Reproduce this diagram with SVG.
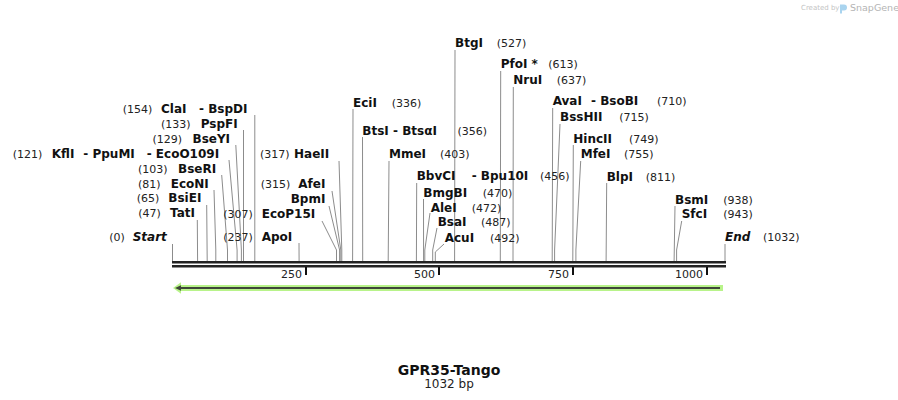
<svg xmlns="http://www.w3.org/2000/svg" width="898" height="400" viewBox="0 0 898 400">
<style>
text{font-family:"DejaVu Sans","Verdana",sans-serif;fill:#111}
.n{font-size:11px;fill:#222}
.b{font-size:12px;font-weight:bold}
.i{font-size:12px;font-weight:bold;font-style:italic}
.t{font-size:11px;fill:#222}
.cut{fill:none;stroke:#8c8c8c;stroke-width:1}
.bar{stroke:#222;stroke-width:2.4}
.tick{stroke:#111;stroke-width:2}
</style>
<rect width="898" height="400" fill="#fff"/>

<g id="logo">
<text x="801" y="10" style="font-size:7px;fill:#c4c4c4">Created by</text>
<path d="M840,4.5 h4 a3,3 0 0 1 0,6 h-2 v3 h-2 z" fill="#a9d4ef"/>
<text x="850" y="11" style="font-size:9.5px;fill:#b4b4b4">SnapGene</text>
</g>

<g id="connectors">
<polyline class="cut" points="254.8,115 254.8,261"/>
<polyline class="cut" points="243.5,130 243.5,261"/>
<polyline class="cut" points="235.8,145 241.4,250 241.4,261"/>
<polyline class="cut" points="229,160 237.1,250 237.1,261"/>
<polyline class="cut" points="221.7,175 227.5,250 227.5,261"/>
<polyline class="cut" points="214,190 215.8,250 215.8,261"/>
<polyline class="cut" points="206.7,205 207.2,261"/>
<polyline class="cut" points="197.3,220 197.6,261"/>
<polyline class="cut" points="172.5,244 172.5,261"/>
<polyline class="cut" points="339,161 341.8,250 341.8,261"/>
<polyline class="cut" points="332,191 340.8,250 340.8,261"/>
<polyline class="cut" points="329,206 339.6,250 339.6,261"/>
<polyline class="cut" points="322,221 336.5,250 336.5,261"/>
<polyline class="cut" points="299,243 299.1,261"/>
<polyline class="cut" points="353,109 352.6,261"/>
<polyline class="cut" points="362.5,137 362.7,261"/>
<polyline class="cut" points="455,50 454.6,261"/>
<polyline class="cut" points="500.7,71 500.3,261"/>
<polyline class="cut" points="513.3,87 513,261"/>
<polyline class="cut" points="389,161 388.2,261"/>
<polyline class="cut" points="416.7,183 416.4,261"/>
<polyline class="cut" points="423.5,199 423.6,261"/>
<polyline class="cut" points="430,213 424.8,250 424.8,261"/>
<polyline class="cut" points="437,228 432.7,250 432.7,261"/>
<polyline class="cut" points="444,244 435.3,252 435.3,261"/>
<polyline class="cut" points="552.7,108 552.2,261"/>
<polyline class="cut" points="560,124 554.6,250 554.6,261"/>
<polyline class="cut" points="573.3,145 572.8,261"/>
<polyline class="cut" points="580.7,161 575.9,250 575.9,261"/>
<polyline class="cut" points="606.7,183 606.1,261"/>
<polyline class="cut" points="675,206 674.1,261"/>
<polyline class="cut" points="681.7,221 676.6,250 676.6,261"/>
<polyline class="cut" points="725,244 725,261"/>
</g>

<g id="backbone">
<line class="bar" x1="172" y1="262.2" x2="726" y2="262.2"/>
<line class="bar" x1="172" y1="266.2" x2="726" y2="266.2"/>
<line class="tick" x1="306" y1="267" x2="306" y2="275"/>
<line class="tick" x1="439" y1="267" x2="439" y2="275"/>
<line class="tick" x1="573" y1="267" x2="573" y2="275"/>
<line class="tick" x1="707" y1="267" x2="707" y2="275"/>
<text class="t" x="302" y="278" text-anchor="end">250</text>
<text class="t" x="435" y="278" text-anchor="end">500</text>
<text class="t" x="569" y="278" text-anchor="end">750</text>
<text class="t" x="703" y="278" text-anchor="end">1000</text>
</g>

<g id="feature-arrow">
<polygon points="173,288 181,282.3 181,285 723,285 723,291 181,291 181,293.7" fill="#b8f38a"/>
<line x1="178" y1="288" x2="720" y2="288" stroke="#3f4639" stroke-width="2"/>
<polygon points="175,288 181,285.2 181,290.8" fill="#3f4639"/>
</g>

<g id="site-ClaI"><text y="113.4"><tspan class="n" x="122.7">(154)</tspan><tspan class="b" x="161">ClaI</tspan><tspan class="b" x="199">- BspDI</tspan></text></g>
<g id="site-PspFI"><text y="128.4"><tspan class="n" x="161">(133)</tspan><tspan class="b" x="200.7">PspFI</tspan></text></g>
<g id="site-BseYI"><text y="143"><tspan class="n" x="152.5">(129)</tspan><tspan class="b" x="192.5">BseYI</tspan></text></g>
<g id="site-KflI"><text y="158.4"><tspan class="n" x="12.7">(121)</tspan><tspan class="b" x="51.7">KflI</tspan><tspan class="b" x="83.3">- PpuMI</tspan><tspan class="b" x="146.7">- EcoO109I</tspan></text></g>
<g id="site-BseRI"><text y="173.4"><tspan class="n" x="138">(103)</tspan><tspan class="b" x="178">BseRI</tspan></text></g>
<g id="site-EcoNI"><text y="187.9"><tspan class="n" x="138">(81)</tspan><tspan class="b" x="170.7">EcoNI</tspan></text></g>
<g id="site-BsiEI"><text y="202.4"><tspan class="n" x="136.7">(65)</tspan><tspan class="b" x="168.3">BsiEI</tspan></text></g>
<g id="site-TatI"><text y="217.4"><tspan class="n" x="138.3">(47)</tspan><tspan class="b" x="170">TatI</tspan></text></g>
<g id="site-Start"><text y="241.4"><tspan class="n" x="109.3">(0)</tspan><tspan class="i" x="132.7">Start</tspan></text></g>

<g id="site-HaeII"><text y="158.4"><tspan class="n" x="260">(317)</tspan><tspan class="b" x="294">HaeII</tspan></text></g>
<g id="site-AfeI"><text y="188"><tspan class="n" x="260.7">(315)</tspan><tspan class="b" x="298.3">AfeI</tspan></text></g>
<g id="site-BpmI"><text y="202.6"><tspan class="b" x="290.7">BpmI</tspan></text></g>
<g id="site-EcoP15I"><text y="217.6"><tspan class="n" x="223.3">(307)</tspan><tspan class="b" x="261.7">EcoP15I</tspan></text></g>
<g id="site-ApoI"><text y="241"><tspan class="n" x="223.3">(237)</tspan><tspan class="b" x="261.7">ApoI</tspan></text></g>
<g id="site-EciI"><text y="107"><tspan class="b" x="353">EciI</tspan><tspan class="n" x="391.7">(336)</tspan></text></g>
<g id="site-BtsI"><text y="135.4"><tspan class="b" x="362.3">BtsI</tspan><tspan class="b" x="393">- BtsαI</tspan><tspan class="n" x="457.5">(356)</tspan></text></g>
<g id="site-BtgI"><text y="47"><tspan class="b" x="455">BtgI</tspan><tspan class="n" x="496.7">(527)</tspan></text></g>
<g id="site-PfoI"><text y="67.5"><tspan class="b" x="500.7">PfoI *</tspan><tspan class="n" x="548.3">(613)</tspan></text></g>
<g id="site-NruI"><text y="83.8"><tspan class="b" x="513.3">NruI</tspan><tspan class="n" x="556.7">(637)</tspan></text></g>
<g id="site-MmeI"><text y="158.4"><tspan class="b" x="389">MmeI</tspan><tspan class="n" x="440">(403)</tspan></text></g>
<g id="site-BbvCI"><text y="180.4"><tspan class="b" x="416.7">BbvCI</tspan><tspan class="b" x="471.7">- Bpu10I</tspan><tspan class="n" x="540">(456)</tspan></text></g>
<g id="site-BmgBI"><text y="196.6"><tspan class="b" x="423.3">BmgBI</tspan><tspan class="n" x="482.7">(470)</tspan></text></g>
<g id="site-AleI"><text y="211.6"><tspan class="b" x="430.7">AleI</tspan><tspan class="n" x="471.7">(472)</tspan></text></g>
<g id="site-BsaI"><text y="226"><tspan class="b" x="437.7">BsaI</tspan><tspan class="n" x="481">(487)</tspan></text></g>
<g id="site-AcuI"><text y="241.6"><tspan class="b" x="444.7">AcuI</tspan><tspan class="n" x="490">(492)</tspan></text></g>
<g id="site-AvaI"><text y="105.4"><tspan class="b" x="552.7">AvaI</tspan><tspan class="b" x="591">- BsoBI</tspan><tspan class="n" x="657">(710)</tspan></text></g>
<g id="site-BssHII"><text y="121"><tspan class="b" x="560">BssHII</tspan><tspan class="n" x="619.3">(715)</tspan></text></g>
<g id="site-HincII"><text y="142.6"><tspan class="b" x="573.3">HincII</tspan><tspan class="n" x="629">(749)</tspan></text></g>
<g id="site-MfeI"><text y="158.4"><tspan class="b" x="580.7">MfeI</tspan><tspan class="n" x="624">(755)</tspan></text></g>
<g id="site-BlpI"><text y="181"><tspan class="b" x="606.7">BlpI</tspan><tspan class="n" x="645.7">(811)</tspan></text></g>
<g id="site-BsmI"><text y="203.6"><tspan class="b" x="675">BsmI</tspan><tspan class="n" x="723.3">(938)</tspan></text></g>
<g id="site-SfcI"><text y="217.6"><tspan class="b" x="681.7">SfcI</tspan><tspan class="n" x="723.3">(943)</tspan></text></g>
<g id="site-End"><text y="241"><tspan class="i" x="725">End</tspan><tspan class="n" x="763">(1032)</tspan></text></g>

<g id="title">
<text x="449" y="374.5" text-anchor="middle" style="font-size:14px;font-weight:bold">GPR35-Tango</text>
<text x="449" y="387.5" text-anchor="middle" style="font-size:12px;fill:#222">1032 bp</text>
</g>
</svg>
